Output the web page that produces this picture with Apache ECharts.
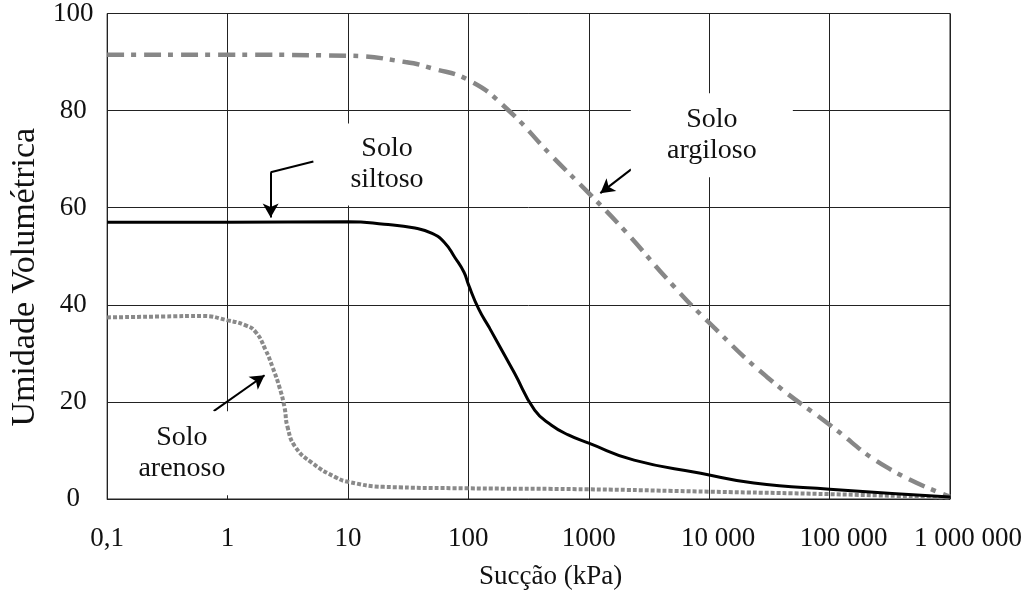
<!DOCTYPE html>
<html><head><meta charset="utf-8">
<script src="https://cdn.jsdelivr.net/npm/echarts@6/dist/echarts.min.js"></script>
<style>html,body{margin:0;padding:0;background:#fff}#c{width:1033px;height:597px}</style>
</head><body><div id="c"></div>
<script>
// ---- data ----
const xTickValues = [0.1, 1, 10, 100, 1000, 10000, 100000, 1000000];
const xTickLabels = ['0,1', '1', '10', '100', '1000', '10 000', '100 000', '1 000 000'];
const yTickLabels = ['0', '20', '40', '60', '80', '100'];

const argilosoSuccao  = [0.1, 1, 10, 30, 50, 100, 200, 500, 1000, 2000, 5000, 10000, 30000, 100000, 300000, 1000000];
const argilosoUmidade = [91.5, 91.5, 91.3, 90, 88.7, 86.3, 80.8, 70.5, 63, 55.2, 44, 36.3, 25.2, 15.3, 6.5, 0.5];

const siltosoSuccao  = [0.1, 1, 10, 20, 36, 50, 63, 77, 92, 100, 122, 150, 200, 242, 355, 490, 676, 1000, 2380, 8500, 23500, 100000, 1000000];
const siltosoUmidade = [57, 57, 57.1, 56.6, 55.8, 54.7, 52.9, 49.8, 46.7, 44.2, 39.1, 35.2, 29.6, 25.9, 18.3, 15.2, 13.2, 11.5, 8, 5.3, 3.3, 2.0, 0.4];

const arenosoSuccao  = [0.1, 0.3, 0.62, 1, 1.4, 1.71, 2.07, 2.36, 2.7, 2.97, 3.15, 3.66, 5.06, 7.85, 10.2, 20, 100, 1000, 10000, 100000, 1000000];
const arenosoUmidade = [37.4, 37.6, 37.7, 36.8, 35.8, 34.4, 30.7, 27.2, 23, 18.9, 14.8, 10.7, 7.4, 4.5, 3.5, 2.5, 2.2, 2.0, 1.5, 1.0, 0.3];

// annotation texts (anchor in data units: succao, umidade)
const annotTexts = ['Solo\nsiltoso', 'Solo\nargiloso', 'Solo\narenoso'];
const annotSuccao = [21.1, 10520, 0.418];
const annotUmidade = [68.9, 74.9, 9.4];
// callout arrows: [fromSuccao, fromUmidade, toSuccao, toUmidade]
const siltosoLeader = [5.16, 69.5, 2.28, 67.3];
const siltosoArrow = [2.28, 67.3, 2.28, 58.0];
const argilosoArrow = [2249, 67.9, 1247, 63.0];
const arenosoArrow = [0.767, 18.1, 2.03, 25.5];

// ---- build ----
const lx = s => Math.log10(s);
const pts = (xs, ys) => xs.map((s, i) => [lx(s), ys[i]]);
const FONT = '"Liberation Serif", "Times New Roman", serif';
const labelShift = {5: 18, 6: 28, 7: 36};
const boxSizes = [[112, 82], [162, 84], [112, 84]];

function seg(a, startSym, endSym) {
  return [{coord: [lx(a[0]), a[1]], symbol: startSym}, {coord: [lx(a[2]), a[3]], symbol: endSym}];
}

const chart = echarts.init(document.getElementById('c'), null, {renderer: 'canvas'});
chart.setOption({
  animation: false,
  backgroundColor: '#fff',
  textStyle: {fontFamily: FONT},
  grid: {left: 104, right: 83, top: 13, bottom: 98, show: true, borderColor: '#222', borderWidth: 1},
  xAxis: {
    type: 'value', min: -1, max: 6, interval: 1,
    name: 'Sucção (kPa)', nameLocation: 'middle', nameGap: 64,
    nameTextStyle: {fontFamily: FONT, fontSize: 27, color: '#111', padding: [0, 0, 0, 44]},
    axisLine: {lineStyle: {color: '#222', width: 1}},
    axisTick: {show: false},
    splitLine: {show: true, lineStyle: {color: '#222', width: 1}},
    axisLabel: {
      margin: 26, fontFamily: FONT, fontSize: 27, color: '#111',
      formatter: v => {
        const i = Math.round(v) + 1;
        const sh = labelShift[i] || 0;
        return sh ? '{s' + i + '|' + xTickLabels[i] + '}' : xTickLabels[i];
      },
      rich: {
        s5: {fontFamily: FONT, fontSize: 27, color: '#111', padding: [0, 0, 0, 18]},
        s6: {fontFamily: FONT, fontSize: 27, color: '#111', padding: [0, 0, 0, 28]},
        s7: {fontFamily: FONT, fontSize: 27, color: '#111', padding: [0, 0, 0, 36]}
      }
    }
  },
  yAxis: {
    type: 'value', min: 0, max: 100, interval: 20,
    name: 'Umidade Volumétrica', nameLocation: 'middle', nameGap: 63, nameRotate: 90,
    nameTextStyle: {fontFamily: FONT, fontSize: 34, color: '#111', padding: [0, 42, 0, 0]},
    axisLine: {show: true, lineStyle: {color: '#222', width: 1}},
    axisTick: {show: false},
    splitLine: {show: true, lineStyle: {color: '#222', width: 1}},
    axisLabel: {
      margin: 34, align: 'center', verticalAlign: 'middle', padding: [16, 0, 0, 0],
      fontFamily: FONT, fontSize: 27, color: '#111',
      formatter: v => yTickLabels[Math.round(v / 20)]
    }
  },
  series: [
    {
      name: 'annotations', type: 'line', data: [], silent: true, z: 3,
      markPoint: {
        silent: true, animation: false,
        data: annotTexts.map((t, i) => ({
          coord: [lx(annotSuccao[i]), annotUmidade[i]],
          symbol: 'rect', symbolSize: boxSizes[i], symbolOffset: [0, 0],
          itemStyle: {color: '#fff', borderWidth: 0},
          label: {show: true, position: 'inside', formatter: t, fontFamily: FONT, fontSize: 28, lineHeight: 31, color: '#111'}
        }))
      }
    },
    {
      name: 'Solo argiloso', type: 'line', data: pts(argilosoSuccao, argilosoUmidade),
      smooth: 0.5, showSymbol: false, z: 4,
      lineStyle: {color: '#878787', width: 4.5, type: [17, 7, 5, 8], cap: 'butt'}
    },
    {
      name: 'Solo siltoso', type: 'line', data: pts(siltosoSuccao, siltosoUmidade),
      smooth: 0.5, showSymbol: false, z: 5,
      lineStyle: {color: '#000', width: 3}
    },
    {
      name: 'Solo arenoso', type: 'line', data: pts(arenosoSuccao, arenosoUmidade),
      smooth: 0.5, showSymbol: false, z: 4,
      lineStyle: {color: '#8a8a8a', width: 4, type: [4, 2], cap: 'butt'}
    },
    {
      name: 'arrows', type: 'line', data: [], silent: true, z: 6,
      markLine: {
        silent: true, animation: false, symbolSize: [12, 14],
        label: {show: false},
        lineStyle: {color: '#000', width: 2, type: 'solid'},
        emphasis: {disabled: true},
        data: [
          seg(siltosoLeader, 'none', 'none'),
          seg(siltosoArrow, 'none', 'arrow'),
          seg(argilosoArrow, 'none', 'arrow'),
          seg(arenosoArrow, 'none', 'arrow')
        ]
      }
    }
  ]
});
</script></body></html>
